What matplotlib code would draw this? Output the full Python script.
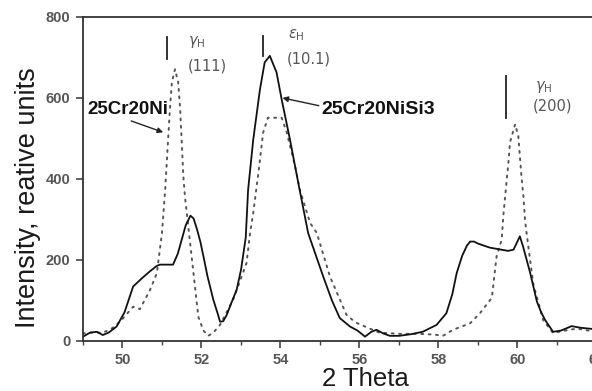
import matplotlib
matplotlib.use("Agg")
import matplotlib.pyplot as plt
from matplotlib.ticker import MultipleLocator

# ---- data ----
solid_x = [49.0, 49.18, 49.35, 49.5, 49.65, 49.85, 50.05, 50.27, 50.5, 50.7, 50.87, 50.95, 51.28, 51.4,
           51.5, 51.6, 51.72, 51.8, 51.89, 51.97, 52.05, 52.15, 52.3, 52.4, 52.47, 52.55, 52.64, 52.75,
           52.89, 53.0, 53.12, 53.18, 53.31, 53.48, 53.6, 53.73, 53.9,
           54.03, 54.24, 54.45, 54.7, 55.08, 55.3, 55.5, 55.76, 55.95, 56.14, 56.3, 56.43, 56.6, 56.77, 57.0,
           57.3, 57.6, 57.95, 58.2, 58.35, 58.46, 58.6, 58.72, 58.8, 58.9, 59.0, 59.3, 59.76, 59.9, 60.06,
           60.14, 60.32, 60.49, 60.6, 60.7, 60.9, 61.1, 61.37, 61.6, 62.0]
solid_y = [10, 20, 22, 14, 20, 35, 70, 134, 155, 172, 185, 188, 188, 215,
           250, 285, 309, 302, 274, 245, 208, 160, 101, 70, 47, 48, 64, 92,
           126, 175, 255, 373, 497, 621, 688, 704, 663,
           596, 497, 390, 266, 159, 100, 56, 35, 25, 10, 22, 27, 18, 12, 12,
           16, 22, 39, 68, 115, 167, 210, 235, 245, 245, 240, 230, 222, 225, 258,
           233, 168, 97, 70, 51, 22, 25, 36, 32, 28]

dot_x = [49.0, 49.2, 49.5, 49.7, 49.94, 50.1, 50.27, 50.44, 50.7, 50.87, 51.0, 51.08, 51.12, 51.16,
         51.2, 51.25, 51.33, 51.41, 51.46, 51.5, 51.54, 51.58, 51.75, 51.92, 52.05, 52.17, 52.3, 52.47,
         52.8, 53.14, 53.23, 53.31, 53.44, 53.56, 53.68, 54.03, 54.16, 54.37, 54.49, 54.75, 54.92,
         55.25, 55.67, 55.9, 56.14, 56.5, 57.0, 57.5, 57.9, 58.11, 58.37, 58.8, 59.05, 59.35, 59.47,
         59.6, 59.64, 59.68, 59.72, 59.77, 59.81, 59.94, 60.02, 60.06, 60.1, 60.15, 60.19, 60.23,
         60.4, 60.65, 60.9, 61.2, 61.5, 61.8, 62.0]
dot_y = [18, 20, 20, 28, 47, 65, 84, 78, 126, 167, 267, 373, 440, 506,
         572, 638, 671, 638, 572, 490, 407, 357, 208, 59, 25, 12, 20, 39,
         101, 192, 266, 316, 414, 514, 551, 551, 514, 431, 373, 291, 266,
         159, 64, 45, 35, 20, 17, 17, 15, 12, 27, 43, 68, 106, 208,
         250, 307, 349, 390, 440, 490, 535, 506, 456, 406, 357, 299, 266,
         140, 51, 19, 25, 30, 25, 22]

x_ticks = [50, 52, 54, 56, 58, 60, 62]
y_ticks = [0, 200, 400, 600, 800]

x_label = "2 Theta"
y_label = "Intensity, reative units"

# peak markers: (x, y_bottom, y_top)
peak_bars_x = [51.12, 53.56, 59.71]
peak_bars_lo = [696, 704, 551]
peak_bars_hi = [750, 753, 653]

# ---- figure ----
plt.rcParams['font.family'] = ['Liberation Sans', 'DejaVu Sans']
plt.rcParams['mathtext.fontset'] = 'dejavusans'

fig = plt.figure(figsize=(5.92, 3.91), dpi=100)
ax = fig.add_axes([83 / 592, (391 - 340.7) / 391, 513.5 / 592, 323.7 / 391])

tc = '#555555'
ax.plot(dot_x, dot_y, color='#555555', lw=1.4, linestyle=(0, (1, 2.8)), dash_capstyle='round')
ax.plot(solid_x, solid_y, color='#111111', lw=1.3)

ax.set_xlim(49, 62)
ax.set_ylim(0, 800)
ax.set_xticks(x_ticks)
ax.set_yticks(y_ticks)
ax.xaxis.set_minor_locator(MultipleLocator(1))

for s in ['left', 'bottom', 'top']:
    ax.spines[s].set_color('#333333')
    ax.spines[s].set_linewidth(1.3)
ax.spines['right'].set_visible(False)

ax.tick_params(axis='both', which='major', direction='out', length=5, width=1.2,
               color='#444444', labelcolor=tc, labelsize=10.5)
ax.tick_params(axis='x', which='minor', direction='out', length=3, width=1.0, color='#444444')
ax.tick_params(axis='x', which='major', pad=4)
ax.tick_params(axis='y', which='major', pad=4)
for lab in ax.get_xticklabels() + ax.get_yticklabels():
    lab.set_fontweight('bold')

fig.text(28 / 592, 1 - 198 / 391, y_label, rotation=90, ha='center', va='center',
         fontsize=19.5, color='#1a1a1a')
fig.text(365 / 592, 1 - 379 / 391, x_label, ha='center', va='center',
         fontsize=18.5, color='#1a1a1a')

# peak bars
for bx, lo, hi in zip(peak_bars_x, peak_bars_lo, peak_bars_hi):
    ax.plot([bx, bx], [lo, hi], color='#222222', lw=1.3)

lab_kw = dict(color='#555555', fontsize=10.5, family=['DejaVu Sans'])
ax.text(51.66, 737, r'$\gamma_{\mathrm{H}}$', ha='left', va='center', **lab_kw)
ax.text(51.64, 678, '(111)', ha='left', va='center', **lab_kw)
ax.text(54.19, 755, r'$\varepsilon_{\mathrm{H}}$', ha='left', va='center', **lab_kw)
ax.text(54.17, 696, '(10.1)', ha='left', va='center', **lab_kw)
ax.text(60.44, 626, r'$\gamma_{\mathrm{H}}$', ha='left', va='center', **lab_kw)
ax.text(60.39, 579, '(200)', ha='left', va='center', **lab_kw)

# annotations
ax.annotate('25Cr20Ni', xy=(51.03, 515), xytext=(49.1, 571), fontsize=13.5, fontweight='bold',
            color='#111111', ha='left', va='center',
            arrowprops=dict(arrowstyle='-|>', color='#222222', lw=1.0, mutation_scale=8,
                            shrinkA=0, shrinkB=0, relpos=(0.45, 0.0)))
ax.annotate('25Cr20NiSi3', xy=(54.05, 600), xytext=(55.04, 571), fontsize=14, fontweight='bold',
            color='#111111', ha='left', va='center',
            arrowprops=dict(arrowstyle='-|>', color='#222222', lw=1.0, mutation_scale=8,
                            shrinkA=0, shrinkB=0, relpos=(0.0, 0.7)))

fig.savefig('out.png', dpi=100)
